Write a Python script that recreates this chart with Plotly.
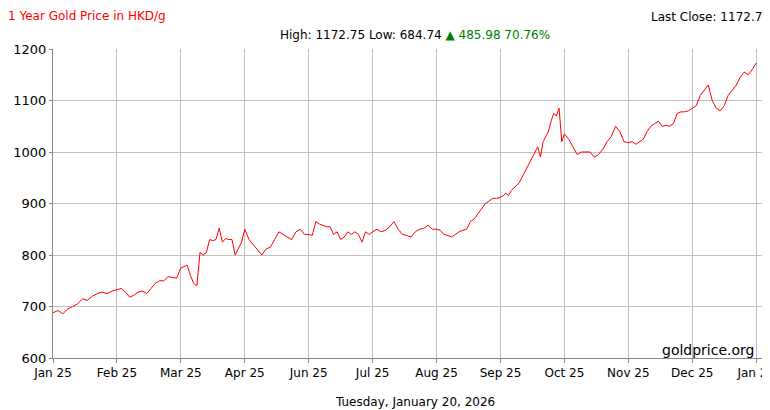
import plotly.graph_objects as go

tick_labels = ["Jan 25","Feb 25","Mar 25","Apr 25","Jun 25","Jul 25","Aug 25","Sep 25","Oct 25","Nov 25","Dec 25","Jan 26"]
months = [
 [688,692,686,695,700,705,715,712,720,725,728,725,730],
 [733,735,728,718,722,728,730,725,735,745,750,750,758,757,755],
 [775,778,780,760,745,740,805,800,805,830,828,830,852,825,832,830,830,800,812,825],
 [850,830,820,810,800,812,815,830,845,840,835,830,845,850,840],
 [840,838,865,860,858,855,855,840,845,830,835,845,840,845,840,825,845,840],
 [845,850,845,848,855,865,850,840,838,835,845,850,852,858,850],
 [850,848,840,838,835,840,845,848,850,865,870,880,890,900,905,910,910],
 [912,915,920,915,925,930,935,940,950,960,970,980,990,1000,1010,990,1020,1030,1040,1060,1075,1070,1085,1020],
 [1035,1025,1010,995,1000,1000,1000,990,995,1005,1020,1030,1050,1040,1020],
 [1018,1020,1015,1020,1025,1040,1050,1055,1060,1050,1052,1050,1055,1075,1078,1078,1080],
 [1085,1090,1110,1120,1130,1100,1085,1080,1090,1110,1120,1130,1145,1155,1150,1160,1172.75],
]
x, y = [], []
for i, m in enumerate(months):
    n = len(m)
    for j, v in enumerate(m):
        x.append(i + (j / (n - 1) if i == len(months) - 1 else j / n))
        y.append(v)

fig = go.Figure(go.Scatter(x=x, y=y, mode="lines", line=dict(color="#ff0000", width=1)))
font = dict(family="DejaVu Sans, Verdana", size=12, color="#000")
fig.update_layout(
    width=770, height=410, margin=dict(l=45, r=2, t=41, b=60, autoexpand=False),
    plot_bgcolor="white", paper_bgcolor="white", showlegend=False, font=font,
    xaxis=dict(range=[0, 11.31], tickvals=list(range(12)), ticktext=tick_labels,
               showgrid=True, gridcolor="#c0c0c0", ticks="outside", ticklen=4,
               tickcolor="#888", showline=True, linecolor="#888", zeroline=False,
               automargin=False, tickfont=dict(size=12)),
    yaxis=dict(range=[600, 1200], dtick=100, showgrid=True, gridcolor="#c0c0c0",
               ticks="outside", ticklen=3, tickcolor="#888", showline=True,
               linecolor="#888", zeroline=False, automargin=False, tickfont=dict(size=13)),
    annotations=[
        dict(text="1 Year Gold Price in HKD/g", x=0, y=1, xref="paper", yref="paper",
             xanchor="left", yanchor="top", showarrow=False, font=dict(color="#ff0000", size=12), xshift=-47, yshift=42),
        dict(text="Last Close: 1172.75", x=1, y=1, xref="paper", yref="paper",
             xanchor="right", yanchor="top", showarrow=False, yshift=41, xshift=-4),
        dict(text="High: 1172.75 Low: 684.74 <span style='color:#008000'>▲ 485.98 70.76%</span>",
             x=0.5, y=1, xref="paper", yref="paper", xanchor="center", yanchor="bottom",
             showarrow=False, yshift=5),
        dict(text="goldprice.org", x=1, y=0, xref="paper", yref="paper", xanchor="right",
             yanchor="bottom", showarrow=False, font=dict(size=14), xshift=-20, yshift=-2),
        dict(text="Tuesday, January 20, 2026", x=0.5, y=0, xref="paper", yref="paper",
             xanchor="center", yanchor="top", showarrow=False, yshift=-35),
    ],
)
fig.write_html("out.html")
